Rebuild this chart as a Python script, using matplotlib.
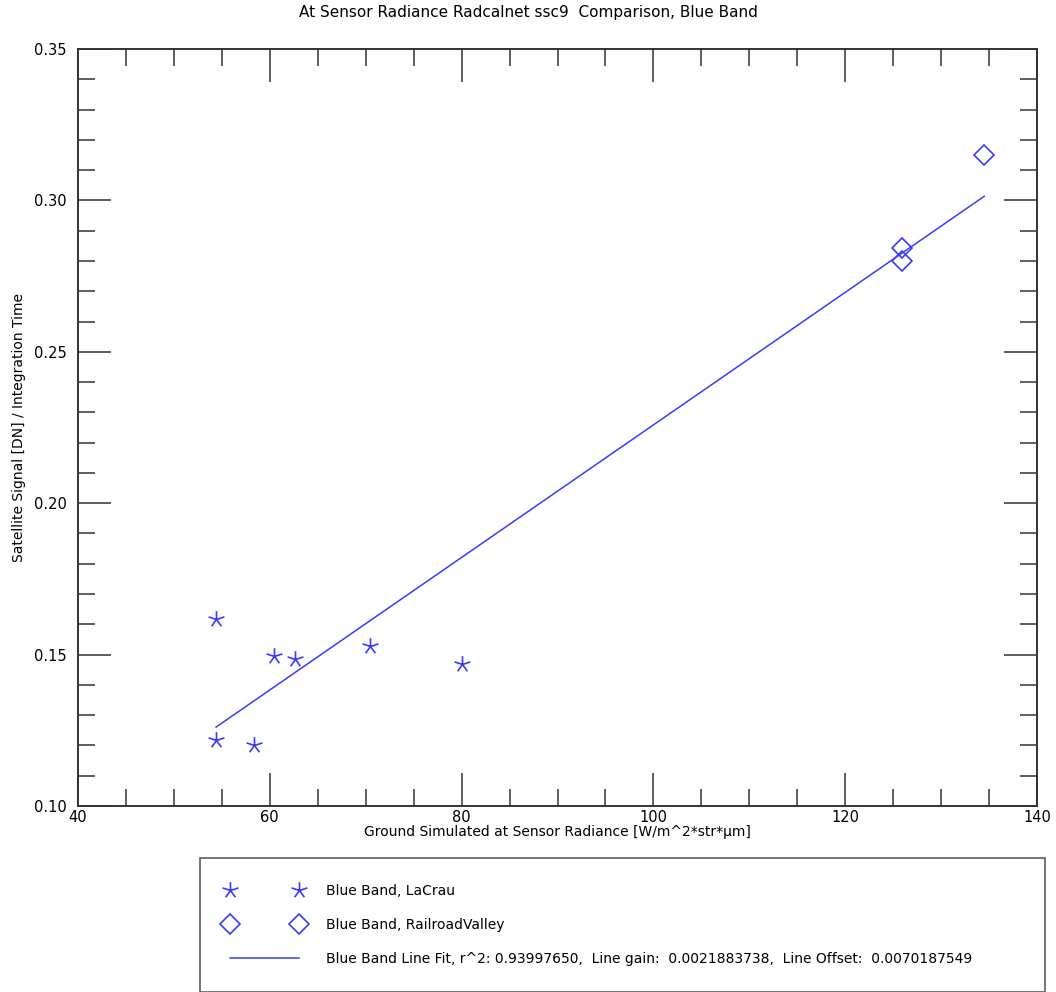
import numpy as np
from matplotlib import pyplot as plt
from matplotlib.path import Path
from matplotlib.ticker import MultipleLocator

# LaCrau site measurements
lacrau_x = [54.4, 54.4, 58.4, 60.4, 62.6, 70.5, 80.0]
lacrau_y = [0.1618, 0.1218, 0.1201, 0.1495, 0.1486, 0.1528, 0.1469]

# Railroad Valley site measurements
rrv_x = [125.9, 125.9, 134.5]
rrv_y = [0.2843, 0.2801, 0.3150]

# line fit parameters (from legend)
r2 = 0.93997650
gain = 0.0021883738
offset = 0.0070187549

blue = '#3a3aff'

# 5 spoke asterisk, one spoke pointing up (IDL psym=2 look)
verts, codes = [], []
for k in range(5):
    a = np.deg2rad(90 + 72*k)
    verts += [(0, 0), (np.cos(a), np.sin(a))]
    codes += [Path.MOVETO, Path.LINETO]
star = Path(verts, codes)

fig = plt.figure(figsize=(10.56, 9.92), dpi=100)
ax = fig.add_axes([78/1056, 1 - 806/992, (1037-78)/1056, (806-49)/992])

ax.plot(lacrau_x, lacrau_y, linestyle='none', marker=star, markersize=12,
        markeredgewidth=1.2, color=blue, label='Blue Band, LaCrau')
ax.plot(rrv_x, rrv_y, linestyle='none', marker='D', markersize=10,
        markerfacecolor='none', markeredgewidth=1.2, color=blue,
        label='Blue Band, RailroadValley')

all_x = np.array(lacrau_x + rrv_x)
fit_x = np.array([all_x.min(), all_x.max()])
ax.plot(fit_x, gain*fit_x + offset, color=blue, linewidth=1.1,
        label='Blue Band Line Fit, r^2: %.8f,  Line gain:  %.10f,  Line Offset:  %.10f' % (r2, gain, offset))

ax.set_xlim(40, 140)
ax.set_ylim(0.10, 0.35)
ax.xaxis.set_major_locator(MultipleLocator(20))
ax.xaxis.set_minor_locator(MultipleLocator(5))
ax.yaxis.set_major_locator(MultipleLocator(0.05))
ax.yaxis.set_minor_locator(MultipleLocator(0.01))
ax.yaxis.set_major_formatter(plt.FormatStrFormatter('%.2f'))
ax.tick_params(which='both', direction='in', top=True, right=True,
               color='#333333', labelsize=10.5)
ax.tick_params(which='major', length=24, width=1.1)
ax.tick_params(which='minor', length=12, width=1.1)
ax.tick_params(axis='x', which='major', pad=3)
ax.tick_params(axis='y', which='major', pad=8)
for s in ax.spines.values():
    s.set_color('#333333')
    s.set_linewidth(1.4)

ax.set_xlabel('Ground Simulated at Sensor Radiance [W/m^2*str*µm]', fontsize=10, labelpad=0)
ax.set_ylabel('Satellite Signal [DN] / Integration Time', fontsize=10, labelpad=6)
fig.text(0.5, 1 - 13/992, 'At Sensor Radiance Radcalnet ssc9  Comparison, Blue Band',
         ha='center', va='center', fontsize=11)

leg = fig.legend(loc='upper left', bbox_to_anchor=(200/1056, 1 - 858/992 - 0.01, 845/1056, 0.01),
                 mode='expand', numpoints=2, fontsize=10, frameon=True, fancybox=False,
                 borderpad=1.85, labelspacing=1.45, handlelength=5.6, handletextpad=1.6,
                 borderaxespad=0)
leg.get_frame().set_edgecolor('#333333')
leg.get_frame().set_linewidth(1.2)

fig.savefig('out.png', dpi=100)
